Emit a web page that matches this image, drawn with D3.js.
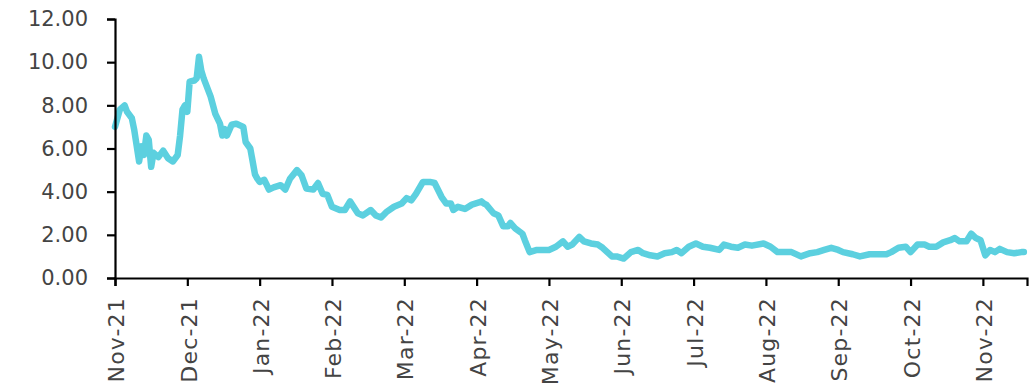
<!DOCTYPE html>
<html>
<head>
<meta charset="utf-8">
<script src="https://cdn.jsdelivr.net/npm/d3@7"></script>
<style>
  body { margin: 0; background: #fff; }
  .axis text { font-family: "DejaVu Sans", sans-serif; fill: #444; }
</style>
</head>
<body>
<script>
// data (daily values, Nov-21 .. Nov-22)
var dates = [
  "2021-11-01","2021-11-03","2021-11-05","2021-11-06","2021-11-08","2021-11-09","2021-11-11","2021-11-12",
  "2021-11-13","2021-11-14","2021-11-15","2021-11-16","2021-11-17","2021-11-19","2021-11-21","2021-11-23",
  "2021-11-25","2021-11-27","2021-11-28","2021-11-29","2021-11-30",
  "2021-12-01","2021-12-02","2021-12-04","2021-12-05","2021-12-06","2021-12-07","2021-12-08","2021-12-11",
  "2021-12-13","2021-12-15","2021-12-16","2021-12-17","2021-12-18","2021-12-20","2021-12-22","2021-12-25",
  "2021-12-26","2021-12-28","2021-12-30","2021-12-31",
  "2022-01-01","2022-01-03","2022-01-05","2022-01-07","2022-01-10","2022-01-12","2022-01-14","2022-01-17",
  "2022-01-19","2022-01-21","2022-01-24","2022-01-26","2022-01-28","2022-01-30",
  "2022-02-01","2022-02-04","2022-02-06","2022-02-08","2022-02-11","2022-02-13","2022-02-16","2022-02-18",
  "2022-02-20","2022-02-22","2022-02-25","2022-02-28",
  "2022-03-02","2022-03-04","2022-03-06","2022-03-09","2022-03-12","2022-03-14","2022-03-17","2022-03-19",
  "2022-03-21","2022-03-22","2022-03-24","2022-03-27","2022-03-30",
  "2022-04-02","2022-04-03","2022-04-04","2022-04-05","2022-04-08","2022-04-10","2022-04-12","2022-04-14",
  "2022-04-15","2022-04-17","2022-04-20","2022-04-21","2022-04-23","2022-04-26","2022-04-29",
  "2022-05-01","2022-05-04","2022-05-07","2022-05-09","2022-05-11","2022-05-14","2022-05-16","2022-05-19",
  "2022-05-22","2022-05-24","2022-05-28","2022-05-30",
  "2022-06-02","2022-06-05","2022-06-08","2022-06-10","2022-06-13","2022-06-16","2022-06-19","2022-06-22",
  "2022-06-24","2022-06-26","2022-06-29",
  "2022-07-02","2022-07-05","2022-07-08","2022-07-12","2022-07-14","2022-07-17","2022-07-20","2022-07-23",
  "2022-07-26","2022-07-31",
  "2022-08-03","2022-08-06","2022-08-09","2022-08-12","2022-08-16","2022-08-20","2022-08-23","2022-08-26",
  "2022-08-29",
  "2022-09-01","2022-09-03","2022-09-07","2022-09-10","2022-09-14","2022-09-17","2022-09-21","2022-09-23",
  "2022-09-26","2022-09-29",
  "2022-10-01","2022-10-04","2022-10-07","2022-10-09","2022-10-12","2022-10-15","2022-10-18","2022-10-20",
  "2022-10-22","2022-10-25","2022-10-27","2022-10-29","2022-10-31",
  "2022-11-02","2022-11-04","2022-11-06","2022-11-08","2022-11-11","2022-11-14","2022-11-17","2022-11-18"
];
var values = [
  7.0,7.8,8.0,7.7,7.4,6.85,5.4,6.1,
  5.7,6.6,6.4,5.15,5.8,5.6,5.9,5.55,
  5.4,5.7,6.6,7.8,8.0,
  7.7,9.1,9.15,9.25,10.25,9.6,9.25,8.4,
  7.6,7.15,6.6,6.9,6.6,7.1,7.15,7.0,
  6.3,6.0,4.8,4.6,
  4.45,4.55,4.1,4.2,4.3,4.1,4.6,5.0,
  4.75,4.15,4.1,4.4,3.9,3.85,
  3.3,3.15,3.15,3.55,3.0,2.9,3.15,2.9,
  2.8,3.05,3.3,3.45,
  3.7,3.6,3.9,4.45,4.45,4.4,3.75,3.45,
  3.45,3.15,3.3,3.2,3.4,
  3.5,3.55,3.45,3.4,3.0,2.9,2.4,2.4,
  2.55,2.3,2.05,1.75,1.2,1.3,1.3,
  1.3,1.45,1.7,1.45,1.55,1.9,1.7,1.6,
  1.55,1.4,1.0,1.0,
  0.9,1.2,1.3,1.15,1.05,1.0,1.15,1.2,
  1.3,1.15,1.45,
  1.6,1.45,1.4,1.3,1.55,1.45,1.4,1.55,
  1.5,1.6,
  1.45,1.2,1.2,1.2,1.0,1.15,1.2,1.3,
  1.4,
  1.3,1.2,1.1,1.0,1.1,1.1,1.1,1.2,
  1.4,1.45,
  1.2,1.55,1.55,1.45,1.45,1.65,1.75,1.85,
  1.7,1.7,2.05,1.85,1.75,
  1.05,1.3,1.2,1.35,1.2,1.15,1.2,1.2
];
var monthLabels = ["Nov-21","Dec-21","Jan-22","Feb-22","Mar-22","Apr-22","May-22",
                   "Jun-22","Jul-22","Aug-22","Sep-22","Oct-22","Nov-22"];
var yTicks = [0, 2, 4, 6, 8, 10, 12];

var width = 1033, height = 392;
var margin = {top: 19, left: 115, right: 6, bottom: 114};

var parse = d3.timeParse("%Y-%m-%d");
// months sit evenly on this axis, so position = month index + fraction of the month
function monthPos(d) {
  var m0 = d3.timeMonth.floor(d), m1 = d3.timeMonth.offset(m0, 1);
  var idx = (d.getFullYear() - 2021) * 12 + d.getMonth() - 10;
  return idx + (d - m0) / (m1 - m0);
}

var data = dates.map(function(s, i) { return {x: monthPos(parse(s)), y: values[i]}; });

var x = d3.scaleLinear().domain([0, 12.61]).range([margin.left, width - margin.right]);
var y = d3.scaleLinear().domain([0, 12]).range([height - margin.bottom, margin.top]);

var svg = d3.select("body").append("svg")
  .attr("width", width).attr("height", height);

var line = d3.line()
  .x(function(d) { return x(d.x); })
  .y(function(d) { return y(d.y); });

svg.append("path")
  .datum(data)
  .attr("fill", "none")
  .attr("stroke", "#5cd0df")
  .attr("stroke-width", 6.5)
  .attr("stroke-linejoin", "round")
  .attr("stroke-linecap", "round")
  .attr("d", line);

// y axis
var yAxis = svg.append("g")
  .attr("class", "axis")
  .attr("transform", "translate(" + margin.left + ",0)")
  .call(d3.axisLeft(y).tickValues(yTicks).tickFormat(d3.format(".2f")).tickSize(8).tickPadding(19));
yAxis.selectAll("text").style("font-size", "21px");

// x axis, labels turned upright
var xAxis = svg.append("g")
  .attr("class", "axis")
  .attr("transform", "translate(0," + (height - margin.bottom) + ")")
  .call(d3.axisBottom(x).tickValues(d3.range(monthLabels.length))
    .tickFormat(function(i) { return monthLabels[i]; }).tickSize(8));
xAxis.selectAll("text")
  .style("font-size", "22px")
  .style("letter-spacing", "1.2px")
  .attr("text-anchor", "end")
  .attr("dy", "0.35em")
  .attr("transform", "translate(1,19) rotate(-90)")
  .attr("x", 0).attr("y", 0);

svg.selectAll(".axis path, .axis line").attr("stroke", "#000").attr("stroke-width", 2.2);
</script>
</body>
</html>
